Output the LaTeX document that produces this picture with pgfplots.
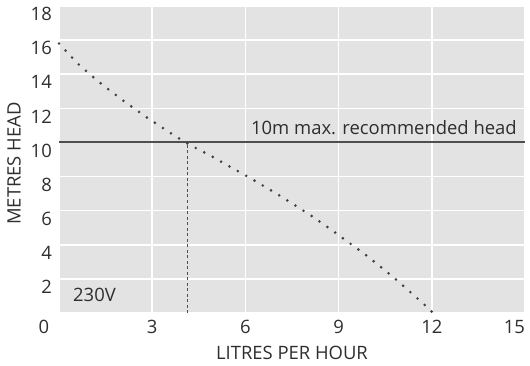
\documentclass[border=0pt]{standalone}
\usepackage{fontspec}
\setmainfont{Open Sans}
\usepackage{pgfplots}
\pgfplotsset{compat=1.18}
\definecolor{bgGray}{HTML}{E3E3E3}
\definecolor{txt}{HTML}{2E2E2E}
\definecolor{lineGray}{HTML}{4E4E4E}
\definecolor{dotGray}{HTML}{404040}
\begin{document}
\begin{tikzpicture}
\fontsize{18.5}{22}\selectfont
\begin{axis}[
  scale only axis, width=466bp, height=307bp,
  xmin=0, xmax=15, ymin=0, ymax=18, enlargelimits=false,
  axis background/.style={fill=bgGray},
  axis line style={draw=none},
  tick style={draw=none},
  grid=major, major grid style={white, line width=1.5bp},
  xtick={0,3,...,15}, ytick={0,2,...,18},
  xticklabels={,3,6,9,12,\llap{15}},
  yticklabels={,2,4,6,8,10,12,14,16,18},
  /pgf/number format/assume math mode=true,
  ticklabel style={font=\fontsize{18.5}{22}\selectfont, text=txt},
  xticklabel style={anchor=center, yshift=-14bp},
  yticklabel style={anchor=east, inner sep=0pt, xshift=-7bp, yshift=-8bp},
  xlabel={LITRES PER HOUR}, ylabel={METRES HEAD},
  label style={font=\fontsize{18.5}{22}\selectfont, text=txt},
  xlabel style={at={(axis description cs:0.5,0)}, anchor=center, yshift=-40bp},
  ylabel style={at={(axis description cs:0,0.5)}, anchor=center, yshift=45bp, xshift=-4bp},
  clip=false,
]
\addplot[lineGray, line width=2bp] coordinates {(0,10) (15,10)};
\addplot[lineGray, line width=1bp, dash pattern=on 3bp off 2.5bp] coordinates {(4.13,0) (4.13,10)};
\addplot[dotGray, line width=2.9bp, line cap=round, dash pattern=on 0bp off 9.6bp, smooth, tension=0.3] coordinates {
(0,15.8) (0.63,14.58) (1.34,13.47) (2.07,12.45) (2.83,11.46) (3.61,10.53) (4.13,9.94)
(4.93,9.17) (5.46,8.62) (6.01,8.06) (7.08,6.91) (8.12,5.70) (8.90,4.70) (9.91,3.35)
(10.87,1.93) (11.81,0.41) (12.04,0)};
\node[anchor=west, inner sep=0pt, text=txt] at (axis cs:0.45,1.06) {230V};
\node[anchor=east, inner sep=0pt, text=txt] at (axis cs:14.74,10.85) {10m max. recommended head};
\node[anchor=center, inner sep=0pt, text=txt] at (rel axis cs:0,0) [xshift=-15bp, yshift=-14bp] {0};
\end{axis}
\pgfresetboundingbox
\path[use as bounding box] ([xshift=-59bp,yshift=-53bp]current axis.south west) rectangle ([xshift=5bp,yshift=6bp]current axis.north east);
\end{tikzpicture}
\end{document}
